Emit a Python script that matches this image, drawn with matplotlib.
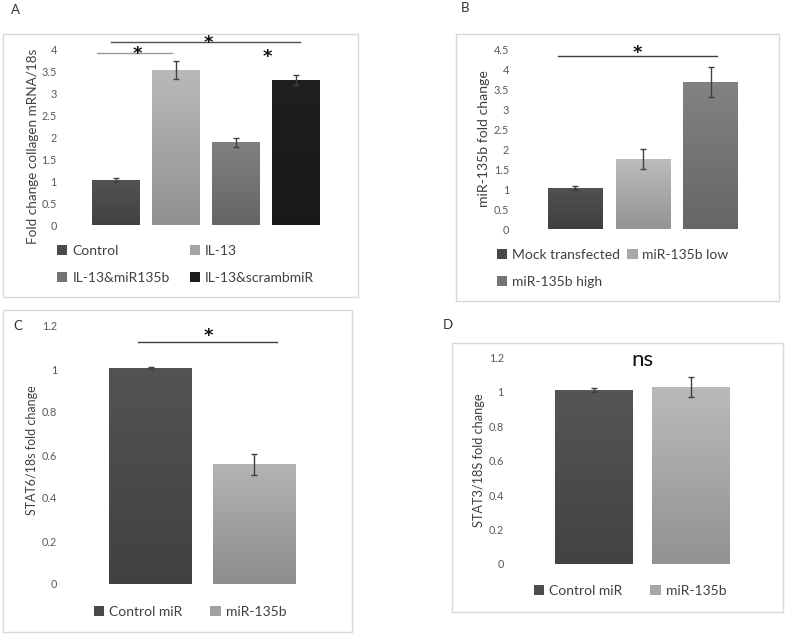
import numpy as np
import matplotlib.pyplot as plt
from matplotlib.patches import Rectangle, Patch
from matplotlib.colors import LinearSegmentedColormap, to_rgb

plt.rcParams['font.family'] = ['Lato', 'DejaVu Sans']

W, H = 787, 636

# Panel A: collagen
a_labels = ['Control', 'IL-13', 'IL-13&miR135b', 'IL-13&scrambmiR']
a_values = [1.02, 3.52, 1.88, 3.30]
a_errors = [0.05, 0.20, 0.10, 0.11]
a_colors = ['#4a4a4a', '#a5a5a5', '#737373', '#1c1c1c']

# Panel B: miR-135b
b_labels = ['Mock transfected', 'miR-135b low', 'miR-135b high']
b_values = [1.02, 1.76, 3.68]
b_errors = [0.05, 0.25, 0.37]
b_colors = ['#484848', '#a8a8a8', '#747474']

# Panel C: STAT6
c_labels = ['Control miR', 'miR-135b']
c_values = [1.005, 0.556]
c_errors = [0.005, 0.05]
c_colors = ['#4a4a4a', '#a0a0a0']

# Panel D: STAT3
d_labels = ['Control miR', 'miR-135b']
d_values = [1.01, 1.027]
d_errors = [0.01, 0.056]
d_colors = ['#4c4c4c', '#a6a6a6']

fig = plt.figure(figsize=(W / 100, H / 100), dpi=100)


def fx(px):
    return px / W


def fy(py):
    return 1 - py / H


def box(l, t, r, b):
    fig.patches.append(Rectangle((fx(l), fy(b)), fx(r) - fx(l), fy(t) - fy(b),
                                 transform=fig.transFigure, fill=False,
                                 edgecolor='#d9d9d9', lw=1.0))


def make_axes(l, t, r, b, pad):
    ax = fig.add_axes([fx(l), fy(b), fx(r) - fx(l), fy(t) - fy(b)])
    for s in ax.spines.values():
        s.set_visible(False)
    ax.set_xticks([])
    ax.tick_params(axis='y', length=0, labelsize=7.8, labelcolor='#595959', pad=pad)
    return ax


def draw_bars(ax, values, errors, colors):
    x = np.arange(len(values))
    bars = ax.bar(x, values, width=0.8, color=colors, edgecolor='none', zorder=2)
    # slight vertical gradient like the Excel bars
    for bar, c in zip(bars, colors):
        rgb = np.array(to_rgb(c))
        top = np.clip(rgb * 1.12, 0, 1)
        bot = np.clip(rgb * 0.88, 0, 1)
        cmap = LinearSegmentedColormap.from_list('g', [bot, top])
        x0, y0 = bar.get_x(), bar.get_y()
        im = ax.imshow(np.linspace(0, 1, 64).reshape(-1, 1), cmap=cmap,
                       origin='lower', aspect='auto', zorder=2.1,
                       extent=[x0, x0 + bar.get_width(), y0, y0 + bar.get_height()])
        im.set_clip_path(bar)
    ax.errorbar(x, values, yerr=errors, fmt='none', ecolor='#404040',
                elinewidth=1.0, capsize=2.5, capthick=1.0, zorder=3)
    ax.set_xlim(-0.5, len(values) - 0.5)
    return bars


def sig(ax, x0, x1, y, color='#404040', star_x=None, star_y=None):
    if x0 is not None:
        ax.plot([x0, x1], [y, y], color=color, lw=1.0, clip_on=False)
    if star_x is not None:
        ax.text(star_x, star_y, '*', ha='center', va='center', fontsize=13,
                fontweight='bold', color='#111111', family='DejaVu Sans',
                clip_on=False)


def legend(ax, labels, colors, order, anchor, colspace):
    handles = [Patch(facecolor=colors[i], edgecolor='none') for i in order]
    labs = [labels[i] for i in order]
    ax.legend(handles, labs, ncol=2, loc='upper left', frameon=False,
              bbox_to_anchor=(fx(anchor[0]), fy(anchor[1])),
              bbox_transform=fig.transFigure, fontsize=10,
              handlelength=0.75, handleheight=0.75, handletextpad=0.35,
              labelspacing=1.05, columnspacing=colspace, borderpad=0,
              borderaxespad=0, labelcolor='#404040')


def ylabel(ax, text, right_px, l, r, yfrac, size):
    ax.set_ylabel(text, fontsize=size, color='#404040',
                  family=['Liberation Sans Narrow', 'Lato'])
    ax.yaxis.set_label_coords((right_px - l) / (r - l), yfrac)


# ---- A ----
box(3, 34, 358, 297)
fig.text(fx(15), fy(10), 'A', fontsize=9.5, ha='center', va='center', color='#333333')
axA = make_axes(86, 49, 325.5, 225, 21)
draw_bars(axA, a_values, a_errors, a_colors)
axA.set_ylim(0, 4)
axA.set_yticks(np.arange(0, 4.01, 0.5))
axA.set_yticklabels(['0', '0.5', '1', '1.5', '2', '2.5', '3', '3.5', '4'])
ylabel(axA, 'Fold change collagen mRNA/18s', 39, 86, 325.5, 0.446, 9.7)
sig(axA, -0.32, 0.94, 3.90, color='#9a9a9a', star_x=0.35, star_y=3.88)
sig(axA, -0.08, 3.08, 4.16, color='#505050', star_x=1.54, star_y=4.14)
sig(axA, None, None, None, star_x=2.53, star_y=3.82)
legend(axA, a_labels, a_colors, [0, 2, 1, 3], (57, 245), 1.45)

# ---- B ----
box(456, 34, 779, 301)
fig.text(fx(465), fy(8), 'B', fontsize=9.5, ha='center', va='center', color='#333333')
axB = make_axes(541, 49, 744.5, 229, 23)
draw_bars(axB, b_values, b_errors, b_colors)
axB.set_ylim(0, 4.5)
axB.set_yticks(np.arange(0, 4.51, 0.5))
axB.set_yticklabels(['0', '0.5', '1', '1.5', '2', '2.5', '3', '3.5', '4', '4.5'])
ylabel(axB, 'miR-135b fold change', 490, 541, 744.5, 0.50, 10.1)
sig(axB, -0.25, 2.10, 4.33, color='#404040', star_x=0.92, star_y=4.40)
legend(axB, b_labels, b_colors, [0, 2, 1], (497, 249), 0.5)

# ---- C ----
box(3, 310, 352, 632)
fig.text(fx(18), fy(326), 'C', fontsize=9.5, ha='center', va='center', color='#333333')
axC = make_axes(98.75, 326, 305.75, 584, 30)
draw_bars(axC, c_values, c_errors, c_colors)
axC.set_ylim(0, 1.2)
axC.set_yticks(np.arange(0, 1.21, 0.2))
axC.set_yticklabels(['0', '0.2', '0.4', '0.6', '0.8', '1', '1.2'])
ylabel(axC, 'STAT6/18s fold change', 38, 98.75, 305.75, 0.52, 9.0)
sig(axC, -0.12, 1.22, 1.126, color='#404040', star_x=0.556, star_y=1.152)
legend(axC, c_labels, c_colors, [0, 1], (94, 606), 2.0)

# ---- D ----
box(452, 343, 783, 612)
fig.text(fx(448), fy(325), 'D', fontsize=9.5, ha='center', va='center', color='#333333')
axD = make_axes(544.75, 357, 739.75, 564, 29.5)
draw_bars(axD, d_values, d_errors, d_colors)
axD.set_ylim(0, 1.2)
axD.set_yticks(np.arange(0, 1.21, 0.2))
axD.set_yticklabels(['0', '0.2', '0.4', '0.6', '0.8', '1', '1.2'])
ylabel(axD, 'STAT3/18S fold change', 485, 544.75, 739.75, 0.50, 9.2)
axD.text(0.5, 1.18, 'ns', ha='center', va='center', fontsize=16, color='#111111',
         clip_on=False)
legend(axD, d_labels, d_colors, [0, 1], (534, 585), 2.0)

fig.savefig('out.png', dpi=100, facecolor='white')
